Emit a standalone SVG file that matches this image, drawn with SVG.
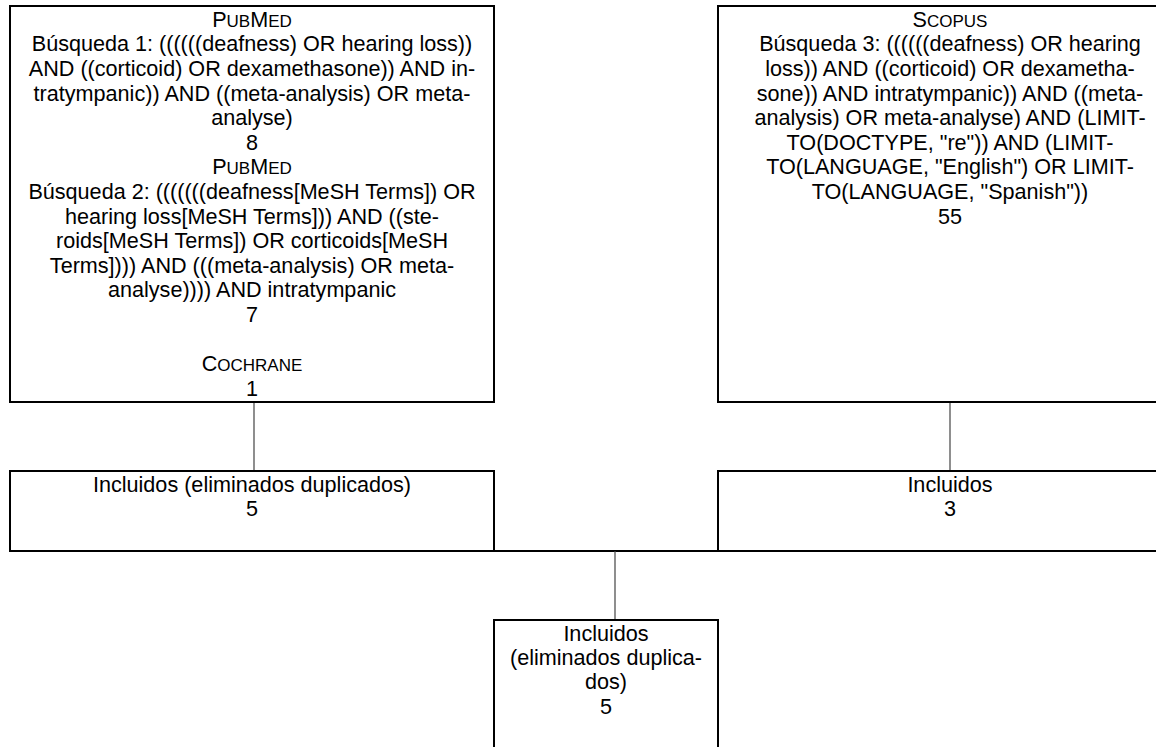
<svg xmlns="http://www.w3.org/2000/svg" width="1156" height="747" viewBox="0 0 1156 747">
<style>
.box{fill:#ffffff;stroke:#000000;stroke-width:2}
.t{font-family:"Liberation Sans",Arial,sans-serif;font-size:21.6px;fill:#000000;text-anchor:middle}
.s{font-size:17px}
.conn{stroke:#444444;stroke-width:1.2;fill:none}
.hconn{stroke:#000000;stroke-width:2;fill:none}
</style>
<rect x="0" y="0" width="1156" height="747" fill="#ffffff"/>
<g id="connectors">
<line class="conn" x1="254" y1="402" x2="254" y2="471"/>
<line class="conn" x1="950" y1="402" x2="950" y2="471"/>
<line class="hconn" x1="494" y1="551" x2="718" y2="551"/>
<line class="conn" x1="615" y1="551" x2="615" y2="620"/>
</g>
<g id="node-pubmed">
<rect class="box" x="10" y="6" width="484" height="396"/>
<text class="t" x="252" y="26.7"><tspan x="252">P<tspan class="s">UB</tspan>M<tspan class="s">ED</tspan></tspan><tspan x="252" dy="24.6">Búsqueda 1: ((((((deafness) OR hearing loss))</tspan><tspan x="252" dy="24.6">AND ((corticoid) OR dexamethasone)) AND in-</tspan><tspan x="252" dy="24.6">tratympanic)) AND ((meta-analysis) OR meta-</tspan><tspan x="252" dy="24.6">analyse)</tspan><tspan x="252" dy="24.6">8</tspan><tspan x="252" dy="24.6">P<tspan class="s">UB</tspan>M<tspan class="s">ED</tspan></tspan><tspan x="252" dy="24.6">Búsqueda 2: (((((((deafness[MeSH Terms]) OR</tspan><tspan x="252" dy="24.6">hearing loss[MeSH Terms])) AND ((ste-</tspan><tspan x="252" dy="24.6">roids[MeSH Terms]) OR corticoids[MeSH</tspan><tspan x="252" dy="24.6">Terms]))) AND (((meta-analysis) OR meta-</tspan><tspan x="252" dy="24.6">analyse)))) AND intratympanic</tspan><tspan x="252" dy="24.6">7</tspan><tspan x="252" dy="49.2">C<tspan class="s">OCHRANE</tspan></tspan><tspan x="252" dy="24.6">1</tspan></text>
</g>
<g id="node-scopus">
<rect class="box" x="718" y="6" width="464" height="396"/>
<text class="t" x="950" y="26.7"><tspan x="950">S<tspan class="s">COPUS</tspan></tspan><tspan x="950" dy="24.6">Búsqueda 3: ((((((deafness) OR hearing</tspan><tspan x="950" dy="24.6">loss)) AND ((corticoid) OR dexametha-</tspan><tspan x="950" dy="24.6">sone)) AND intratympanic)) AND ((meta-</tspan><tspan x="950" dy="24.6">analysis) OR meta-analyse) AND (LIMIT-</tspan><tspan x="950" dy="24.6">TO(DOCTYPE, "re")) AND (LIMIT-</tspan><tspan x="950" dy="24.6">TO(LANGUAGE, "English") OR LIMIT-</tspan><tspan x="950" dy="24.6">TO(LANGUAGE, "Spanish"))</tspan><tspan x="950" dy="24.6">55</tspan></text>
</g>
<g id="node-incluidos-left">
<rect class="box" x="10" y="471" width="484" height="80"/>
<text class="t" x="252" y="491.5"><tspan x="252">Incluidos (eliminados duplicados)</tspan><tspan x="252" dy="24.6">5</tspan></text>
</g>
<g id="node-incluidos-right">
<rect class="box" x="718" y="471" width="464" height="80"/>
<text class="t" x="950" y="491.5"><tspan x="950">Incluidos</tspan><tspan x="950" dy="24.6">3</tspan></text>
</g>
<g id="node-incluidos-final">
<rect class="box" x="494" y="620" width="224" height="150"/>
<text class="t" x="606" y="641"><tspan x="606">Incluidos</tspan><tspan x="606" dy="24.2">(eliminados duplica-</tspan><tspan x="606" dy="24.2">dos)</tspan><tspan x="606" dy="24.2">5</tspan></text>
</g>
</svg>
